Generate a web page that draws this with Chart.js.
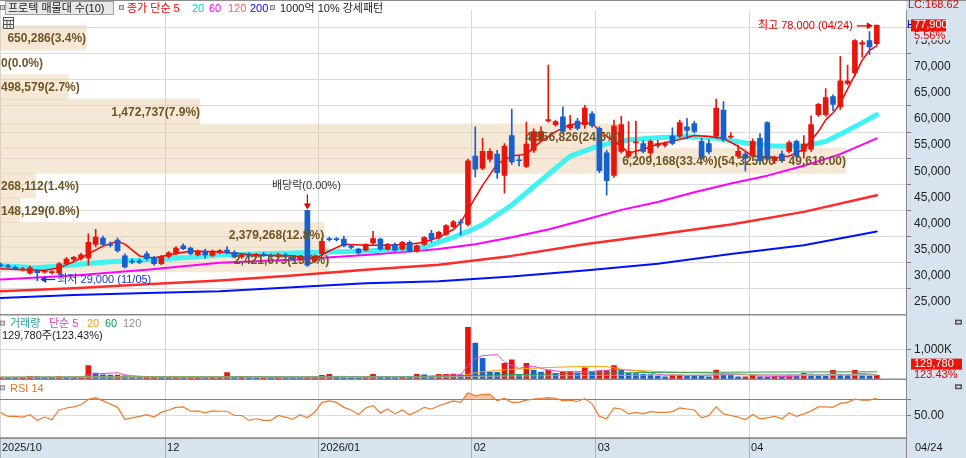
<!DOCTYPE html>
<html lang="ko">
<head>
<meta charset="utf-8">
<title>프로텍 일봉</title>
<script src="https://cdn.jsdelivr.net/npm/chart.js@4.4.1/dist/chart.umd.min.js"></script>
<style>
  html, body { margin: 0; padding: 0; background: #fff; overflow: hidden; }
  #stockChart { display: block; }
</style>
</head>
<body>
<canvas id="stockChart" width="966" height="458"></canvas>
<script>
// daily candles, index 0 = 2025/10/29 ... index 120 = 2026/04/24
var openPrices = [32100,31900,31600,31100,30500,31000,30700,30600,30500,32300,
  33100,33300,33400,36000,37200,36000,36800,33800,32800,32800,
  34200,33400,32300,33700,34200,35700,35300,34000,34700,33900,
  34400,34900,34500,33600,34000,33800,34100,33900,33700,34000,
  33500,33200,42500,32800,34200,37000,37000,37000,35700,35100,
  34900,36300,37000,35100,36000,35100,36400,34700,36000,38100,
  37300,37900,39400,40300,39800,52900,50600,52300,53300,49200,
  56800,52200,50900,54000,56100,59600,58900,60400,58300,59600,
  58900,61000,58200,53500,49200,53800,52900,55400,55300,53500,
  54900,55000,56700,56700,58500,59100,55700,55300,56700,61700,
  56500,52900,53300,52900,56300,59300,52000,53300,53800,55700,
  53800,54200,60800,60800,64300,62300,66800,68800,74300,75000,
  74400];
var highPrices = [32400,32200,31900,31600,31800,31200,31200,31000,32500,33500,
  33700,34300,38000,38900,37600,36500,37200,34200,33200,33200,
  34600,33700,33900,34600,35600,36100,35500,34900,35100,34900,
  35000,35600,34800,34200,34400,34300,34500,34200,34300,34300,
  33800,33800,42500,34000,37200,37400,37300,37600,36000,35300,
  36100,38500,37200,36200,36300,36600,36700,35900,37500,38700,
  38500,39800,40600,40800,52300,58500,56300,54300,54000,55300,
  61900,53000,59400,58100,58500,70300,59800,62300,60700,60100,
  62600,61400,58500,54000,59800,60500,59500,59600,55800,56000,
  55900,55600,58300,59800,60100,59600,56300,56000,63800,63300,
  57400,55000,53600,56200,57200,59500,52900,53900,55800,56000,
  56800,60600,63000,65800,64600,72000,70300,75200,75000,76700,
  78000];
var lowPrices = [31700,31500,31100,30900,30300,29000,30500,30300,30300,32000,
  32800,33000,32000,35500,35800,35500,34500,31500,32300,32300,
  33000,32000,32100,33400,34000,35000,34000,33800,33300,33700,
  34200,34200,33400,33300,33600,33500,33700,33500,33400,33500,
  32900,32900,31800,32500,34000,36600,36600,35500,35200,34100,
  34700,36000,34900,34900,34700,34900,34500,34500,35800,36400,
  37000,37700,39200,37800,39500,48900,50300,51800,48600,45800,
  51300,51000,50700,53600,55600,59400,58600,57200,57900,57900,
  58200,58400,49700,45400,48800,53500,52500,52800,53500,52800,
  54500,54600,55100,56400,56200,57300,52200,53300,56300,55700,
  56300,52500,50000,52700,51500,52100,51500,51700,53500,52700,
  52500,53800,60500,60500,61600,61800,66500,68200,71800,72300,
  74200];
var closePrices = [31900,31700,31300,31300,31500,30600,30900,30800,32300,33200,
  33500,34000,36400,37400,36000,35800,34800,31700,32600,32600,
  33300,32300,33600,34400,35300,35200,34200,34700,34000,34700,
  34800,34400,33600,34000,33800,34100,33900,33700,34000,33700,
  33200,33500,32000,33700,36600,36900,36900,35700,35400,34400,
  36000,37100,35100,36000,34900,36400,34700,35700,37300,37000,
  38300,39600,40300,40100,52000,50400,53800,53800,49700,54800,
  51800,52000,55200,57600,57600,59900,59500,57600,58900,58200,
  62100,58700,50100,48200,58700,58900,53800,55600,53800,55700,
  55300,55300,55300,59300,57800,57600,52500,53700,62100,56100,
  56700,53800,52500,55700,52000,52300,52700,52000,55500,52900,
  55200,58900,62800,64100,62800,67300,67300,75000,74600,73800,
  77900];

// moving averages (candle index, price)
var ma5Idx = [0,3,6,8,10,12,14,16,17,19,21,23,26,30,35,40,42,43,45,47,50,53,56,58,60,62,63,64,66,68,
  70,72,74,76,78,80,81,83,85,86,88,90,93,95,97,99,101,103,106,108,110,112,113,114,115,117,118,119,120];
var ma5 = [31360,31170,30990,31550,32670,34170,35670,36600,36040,33800,33420,33980,34730,34540,33980,33800,33610,33230,34730,36040,
  35850,35850,36040,36420,37350,38850,40160,42600,47280,51400,52900,53270,55710,57580,58900,59270,59080,56650,54770,53460,
  54210,55150,56080,56830,56650,56270,54770,52900,52520,52900,54210,57580,59830,61140,63010,68440,71250,73130,74000];
var ma20Idx = [0,5,10,15,20,25,30,35,40,45,50,55,58,60,62,64,66,70,74,78,82,86,90,94,98,102,106,110,113,116,118,120];
var ma20 = [31920,31550,32110,32670,33050,33420,33980,34170,34360,34540,34730,35100,35480,36420,37350,38480,39790,43530,48220,52900,
  54900,56000,56400,56650,56300,55400,54800,54770,55700,57800,59300,60800];
var ma60Idx = [0,10,20,30,40,50,60,65,70,75,80,85,90,95,100,105,110,115,120];
var ma60 = [29300,30050,31170,32480,33050,33980,35100,36040,37350,38850,40720,42600,44100,45970,47650,49150,51030,53270,56270];
var ma120Idx = [0,10,20,30,40,50,60,70,80,90,100,110,120];
var ma120 = [27050,27610,28360,29110,30050,31170,32110,33800,36040,37910,39790,42220,45400];
var ma200Idx = [0,10,20,30,40,50,60,70,80,90,100,110,120];
var ma200 = [25740,26300,26680,27050,27800,28550,28930,29860,30990,32300,34170,35850,38480];

// volume in thousand shares
var volumes = [60,50,45,55,100,90,50,45,100,70,
  60,70,470,210,150,140,140,120,60,55,
  60,70,60,55,60,50,55,60,50,60,
  60,230,60,62,55,50,55,50,60,55,
  50,45,60,60,130,170,80,60,55,50,
  80,170,90,70,60,70,65,170,150,70,
  165,170,175,150,1770,1230,710,245,240,545,
  660,145,545,310,245,310,190,245,250,220,
  390,245,290,295,470,300,200,195,165,160,
  110,80,150,155,120,115,100,80,310,200,
  150,80,85,150,80,70,100,80,130,100,
  200,180,120,110,300,150,130,300,120,105,
  129.78];
var volMa5Idx = [0,5,10,11,12,13,16,17,18,20,25,30,31,33,35,36,40,43,45,47,50,52,55,58,60,62,63,64,65,66,
  67,68,69,70,71,72,73,75,77,80,82,84,86,88,90,92,94,96,98,100,102,104,106,108,110,112,114,116,118,120];
var volMa5 = [55,68,73,69,150,182,222,152,122,87,57,57,91,92,91,56,54,56,92,99,65,90,92,103,124,146,146,486,699,807,
  821,839,594,480,367,427,441,311,260,259,279,338,311,266,166,133,123,128,145,168,165,109,97,92,122,146,182,162,200,157];
var volMa20Idx = [0,20,40,60,63,64,66,70,75,80,83,84,85,86,90,95,100,105,110,115,120];
var volMa20 = [70,90,80,85,90,175,260,340,400,437,430,390,342,317,264,217,195,138,127,139,136];
var volMa60Idx = [0,25,35,45,60,64,70,80,90,100,110,120];
var volMa60 = [70,80,85,85,90,125,158,201,233,241,248,255];
var volMa120Idx = [0,60,70,90,110,120];
var volMa120 = [70,80,110,140,160,165];

var rsi14 = [54,48.8,48.8,48,51,43.7,48,44.6,57,59.6,
  61,63.7,70.8,72.9,68.7,64.6,60.4,45,47,48.8,
  51,48,54,57,60.4,61,55.4,55.9,53.3,55.9,
  55.4,55.4,50,50,43.7,45.8,43.7,43.7,50,48,
  45,51,47,54,66.7,68.7,66.7,60.4,57,51.2,
  59.6,62.5,53.3,58.3,52,57,51,55,60.4,58.3,
  62.5,65.4,68.7,66.7,79,75,77,77,68.7,72,
  66.7,66.7,69.6,70.8,72,72.9,72,68.7,69.6,67.9,
  71.6,64.6,48.8,45.8,59.6,58.3,52,54,52,55,
  54,54,55,59.6,58.3,57,47,50,61,52,
  50,48,44.6,51.2,45.8,47,48.8,45.8,53.3,48.8,
  52,55.9,61,61,60.4,65.4,66.7,70.8,69.6,69.6,
  72];

// volume-at-price profile (10 bands)
var bandLow = [30750,35465,40180,44895,49610,54325,59040,63755,68470,73185];
var bandStep = 4715;
var bandVolume = [2421673,2379268,148129,268112,6209168,4556826,1472737,498579,0,650286];
var bandPct = [13.0,12.8,0.8,1.4,33.4,24.5,7.9,2.7,0.0,3.4];

var monthLabels = ['2025/10','12','2026/01','02','03','04'];
var monthStartIdx = [0,23,44,65,82,103];
var priceTicks = [25000,30000,35000,40000,45000,50000,55000,60000,65000,70000,75000];

var FONT = "'Liberation Sans', 'Noto Sans CJK KR', sans-serif";
var RED = '#e8150c', BLUE = '#1660d0';
var xMin = -0.103, xMax = 124.0;

Chart.defaults.font.family = FONT;
Chart.defaults.font.size = 12;
Chart.defaults.color = '#222';

function pts(idx, vals) {
  return idx.map(function (i, k) { return { x: i, y: vals[k] }; });
}
function comma(v) { return Math.round(v).toLocaleString('en-US'); }

var candleColors = closePrices.map(function (c, i) { return c >= openPrices[i] ? RED : BLUE; });
var volumeColors = volumes.map(function (v, i) { return i === 0 || v >= volumes[i - 1] ? RED : BLUE; });
var monthTickValues = monthStartIdx.map(function (i) { return Math.max(i - 0.5, xMin); });
var maxBand = bandPct.indexOf(Math.max.apply(null, bandPct));

function lineSet(label, data, color, width, axis, order) {
  return { type: 'line', label: label, data: data, borderColor: color, borderWidth: width,
    pointRadius: 0, tension: 0, yAxisID: axis, xAxisID: 'x', order: order,
    borderCapStyle: 'round', borderJoinStyle: 'round' };
}

function arrow(c, x1, y1, x2, y2, color) {
  var ang = Math.atan2(y2 - y1, x2 - x1), ca = Math.cos(ang), sa = Math.sin(ang);
  c.strokeStyle = color; c.fillStyle = color; c.lineWidth = 1.3;
  c.beginPath(); c.moveTo(x1, y1); c.lineTo(x2 - 4 * ca, y2 - 4 * sa); c.stroke();
  c.beginPath(); c.moveTo(x2, y2);
  c.lineTo(x2 - 6 * ca + 3.5 * sa, y2 - 6 * sa - 3.5 * ca);
  c.lineTo(x2 - 6 * ca - 3.5 * sa, y2 - 6 * sa + 3.5 * ca);
  c.closePath(); c.fill();
}
function marker(c, x, y) {
  c.fillStyle = '#d6d6d6'; c.fillRect(x + 0.5, y + 0.5, 4, 4);
  c.strokeStyle = '#8a8a8a'; c.lineWidth = 1; c.strokeRect(x + 0.5, y + 0.5, 4, 4);
}
function text(c, s, x, y, color, font, align) {
  c.font = font || ('11px ' + FONT); c.fillStyle = color; c.textAlign = align || 'left'; c.textBaseline = 'middle';
  c.fillText(s, x, y);
}

var annotatePlugin = {
  id: 'annotate',
  beforeDraw: function (chart) {
    var c = chart.ctx, a = chart.chartArea;
    c.save();
    c.fillStyle = '#ffffff'; c.fillRect(0, 0, chart.width, chart.height);
    c.fillStyle = '#d8e3f0';
    c.fillRect(a.right, 0, chart.width - a.right, chart.height);
    c.fillRect(0, a.bottom, chart.width, chart.height - a.bottom);
    c.restore();
  },
  afterDatasetsDraw: function (chart) {
    var c = chart.ctx;
    var meta = chart.getDatasetMeta(0);
    c.save();
    c.font = 'bold 12px ' + FONT; c.fillStyle = '#6f5524'; c.textAlign = 'right'; c.textBaseline = 'middle';
    meta.data.forEach(function (bar, k) {
      var s = comma(bandVolume[k]) + '(' + bandPct[k].toFixed(1) + '%)';
      if (k === maxBand) {
        s += '(' + (bandLow[k] + bandStep).toLocaleString('en-US', { minimumFractionDigits: 2 }) + ' ~ ' +
          bandLow[k].toLocaleString('en-US', { minimumFractionDigits: 2 }) + ')';
      }
      var w = c.measureText(s).width;
      c.fillText(s, Math.max(bar.x, w + 1), bar.y + 1);
    });
    c.restore();
  },
  afterDraw: function (chart) {
    var c = chart.ctx, a = chart.chartArea, sx = chart.scales.x, sy = chart.scales.y;
    var sv = chart.scales.yv, sr = chart.scales.yr;
    c.save();
    // panel frames
    c.strokeStyle = '#8c8c8c'; c.lineWidth = 1.5;
    [sv.top, sr.top, a.bottom].forEach(function (y) {
      c.beginPath(); c.moveTo(0, y); c.lineTo(a.right, y); c.stroke();
    });
    c.lineWidth = 1;
    c.beginPath(); c.moveTo(0, 0.5); c.lineTo(chart.width, 0.5); c.stroke();
    c.beginPath(); c.moveTo(a.right + 0.5, a.bottom); c.lineTo(a.right + 0.5, chart.height); c.stroke();

    // top legend
    marker(c, 0, 5);
    c.fillStyle = '#e8e8e8'; c.fillRect(5.5, 1.5, 108, 13);
    c.strokeStyle = '#a0a0a0'; c.strokeRect(5.5, 1.5, 108, 13);
    text(c, '프로텍 매물대 수(10)', 8, 8.5, '#1a1a1a');
    marker(c, 119, 5);
    text(c, '종가 단순 5', 127, 8.5, '#ff0000');
    text(c, '20', 192, 8.5, '#00d0e4');
    text(c, '60', 209, 8.5, '#ff00ff');
    text(c, '120', 228, 8.5, '#ff5a5a');
    text(c, '200', 250, 8.5, '#0000ff');
    marker(c, 270, 5);
    text(c, '1000억 10% 강세패턴', 280, 8.5, '#1a1a1a');
    // table icon
    c.fillStyle = '#f2f2f2'; c.fillRect(3.5, 17.5, 10, 11);
    c.strokeStyle = '#555'; c.strokeRect(3.5, 17.5, 10, 11);
    c.beginPath();
    c.moveTo(3.5, 20.5); c.lineTo(13.5, 20.5); c.moveTo(3.5, 24.5); c.lineTo(13.5, 24.5);
    c.moveTo(7, 20.5); c.lineTo(7, 28.5); c.moveTo(10.2, 20.5); c.lineTo(10.2, 28.5);
    c.stroke();

    // high / low / dividend annotations
    var hx = sx.getPixelForValue(120), hy = sy.getPixelForValue(78000);
    text(c, '최고 78,000 (04/24)', hx - 24, hy + 1, '#e00000', null, 'right');
    arrow(c, hx - 20, hy + 1, hx - 4, hy + 1, '#e00000');
    var lx = sx.getPixelForValue(5), ly = sy.getPixelForValue(29000) - 1.5;
    arrow(c, lx + 18, ly, lx + 3, ly, '#1a32c8');
    text(c, '최저 29,000 (11/05)', lx + 20, ly, '#1a32c8');
    var dx = sx.getPixelForValue(42), dy = sy.getPixelForValue(42500);
    text(c, '배당락(0.00%)', dx - 1, dy - 24, '#333333', null, 'center');
    arrow(c, dx, dy - 16, dx, dy - 1, '#e00000');

    // volume & rsi headers
    marker(c, 0, sv.top + 6);
    text(c, '거래량', 10, sv.top + 9.5, '#2aa0a8');
    text(c, '단순 5', 49, sv.top + 9.5, '#e040c0');
    text(c, '20', 87, sv.top + 9.5, '#f0a000');
    text(c, '60', 105, sv.top + 9.5, '#00a050');
    text(c, '120', 123, sv.top + 9.5, '#909090');
    text(c, '129,780주(123.43%)', 2, sv.top + 21, '#1a1a1a');
    marker(c, 0, sr.top + 6);
    text(c, 'RSI 14', 10, sr.top + 9.5, '#f07020');

    // right axis badges
    var by = sy.getPixelForValue(closePrices[closePrices.length - 1]);
    text(c, 'LC:168.62', a.right + 2, 5, '#e00000');
    text(c, 'H', a.right + 1, by, '#0000d0');
    c.fillStyle = '#d8e3f0'; c.fillRect(a.right + 2, by + 5, 50, 10);
    c.fillStyle = RED; c.fillRect(a.right + 5, by - 6, 35, 12);
    text(c, '77,900', a.right + 8, by, '#ffffff');
    text(c, '5.56%', a.right + 8, by + 11, '#e00000');
    c.fillStyle = RED; c.fillRect(a.right + 5, sv.top + 44, 51, 11);
    text(c, '129,780', a.right + 8, sv.top + 49.5, '#ffffff');
    text(c, '123.43%', a.right + 8, sv.top + 60, '#e00000');
    [sv.top + 5, sr.top + 5].forEach(function (y) {
      c.fillStyle = '#555'; c.fillRect(a.right + 49, y, 7, 5);
      c.fillStyle = '#ddd'; c.fillRect(a.right + 50.5, y + 1.5, 4, 2);
    });
    text(c, '04/24', a.right + 9, a.bottom + 10, '#1a1a1a');
    c.restore();
  }
};

var datasets = [
  { type: 'bar', label: '매물대', indexAxis: 'y', xAxisID: 'xp', yAxisID: 'y',
    data: bandPct.map(function (p, k) { return { x: p, y: bandLow[k] + bandStep / 2 }; }),
    backgroundColor: 'rgba(233,204,164,0.45)', barThickness: 25, grouped: false, order: 50 },
  lineSet('200', pts(ma200Idx, ma200), '#0010ff', 2, 'y', 40),
  lineSet('120', pts(ma120Idx, ma120), '#ff2a2a', 2.5, 'y', 39),
  lineSet('60', pts(ma60Idx, ma60), '#ff00ff', 2, 'y', 38),
  lineSet('20', pts(ma20Idx, ma20), '#40f2f2', 5, 'y', 37),
  lineSet('5', pts(ma5Idx, ma5), '#ff0000', 1.5, 'y', 36),
  { type: 'bar', label: 'wick', xAxisID: 'x', yAxisID: 'y',
    data: lowPrices.map(function (l, i) { return { x: i, y: [l, highPrices[i]] }; }),
    backgroundColor: candleColors, barThickness: 1, grouped: false, minBarLength: 1, order: 2 },
  { type: 'bar', label: 'body', xAxisID: 'x', yAxisID: 'y',
    data: openPrices.map(function (o, i) { return { x: i, y: [o, closePrices[i]] }; }),
    backgroundColor: candleColors, barThickness: 5, grouped: false, minBarLength: 1, order: 1 },
  { type: 'bar', label: '거래량', xAxisID: 'x', yAxisID: 'yv',
    data: volumes.map(function (v, i) { return { x: i, y: v }; }),
    backgroundColor: volumeColors, barThickness: 5, grouped: false, order: 5 },
  lineSet('v120', pts(volMa120Idx, volMa120), '#a8a8a8', 1, 'yv', 4),
  lineSet('v60', pts(volMa60Idx, volMa60), '#20a050', 1, 'yv', 4),
  lineSet('v20', pts(volMa20Idx, volMa20), '#f5a300', 1, 'yv', 4),
  lineSet('v5', pts(volMa5Idx, volMa5), '#e848c8', 1, 'yv', 4),
  { type: 'line', label: 'RSI 14', xAxisID: 'x', yAxisID: 'yr',
    data: rsi14.map(function (v, i) { return { x: i, y: v }; }),
    borderColor: '#f07a2a', borderWidth: 1.2, pointRadius: 0, tension: 0, order: 3,
    fill: { target: { value: 70 }, above: 'rgba(242,160,110,0.6)', below: 'rgba(0,0,0,0)' } }
];

function yAxis(weight, min, max, tickVals, label, gridColor) {
  return {
    type: 'linear', position: 'right', stack: 'panels', stackWeight: weight,
    min: min, max: max, offset: false,
    afterBuildTicks: function (s) { s.ticks = tickVals.map(function (v) { return { value: v }; }); },
    afterFit: function (s) { s.width = 60; },
    ticks: { autoSkip: false, padding: 3, color: '#222', font: { size: 12 }, callback: label },
    grid: { color: gridColor || '#dcdcdc', tickLength: 5, tickColor: '#777' },
    border: { color: '#8c8c8c' }
  };
}

new Chart(document.getElementById('stockChart').getContext('2d'), {
  type: 'bar',
  data: { datasets: datasets },
  plugins: [annotatePlugin],
  options: {
    responsive: false,
    maintainAspectRatio: false,
    animation: false,
    events: [],
    layout: { padding: { top: 1, left: 0, right: 0, bottom: 0 } },
    plugins: { legend: { display: false }, tooltip: { enabled: false } },
    scales: {
      x: {
        type: 'linear', min: xMin, max: xMax, offset: false,
        afterBuildTicks: function (s) { s.ticks = monthTickValues.map(function (v) { return { value: v }; }); },
        afterFit: function (s) { s.height = 20; },
        ticks: { autoSkip: false, maxRotation: 0, align: 'start', padding: -17, labelOffset: 2,
          color: '#1a1a1a', font: { size: 11 },
          callback: function (v, k) { return monthLabels[k]; } },
        grid: { color: '#d6d6d6', tickLength: 20, tickColor: '#a6b0bd', offset: false },
        border: { color: '#8c8c8c' }
      },
      xp: { type: 'linear', axis: 'x', display: false, min: 0, max: 35.77, offset: false },
      y: yAxis(311, 22556, 80806, priceTicks, function (v) { return comma(v); }),
      yv: yAxis(66, 0, 2200, [1000], function () { return '1,000K'; }),
      yr: yAxis(60, 21.25, 96.25, [50, 70], function (v) { return v === 50 ? '50.00' : ''; },
        function (ctx) { return ctx.tick && ctx.tick.value === 70 ? '#7c7c7c' : '#dcdcdc'; })
    }
  }
});
</script>
</body>
</html>
